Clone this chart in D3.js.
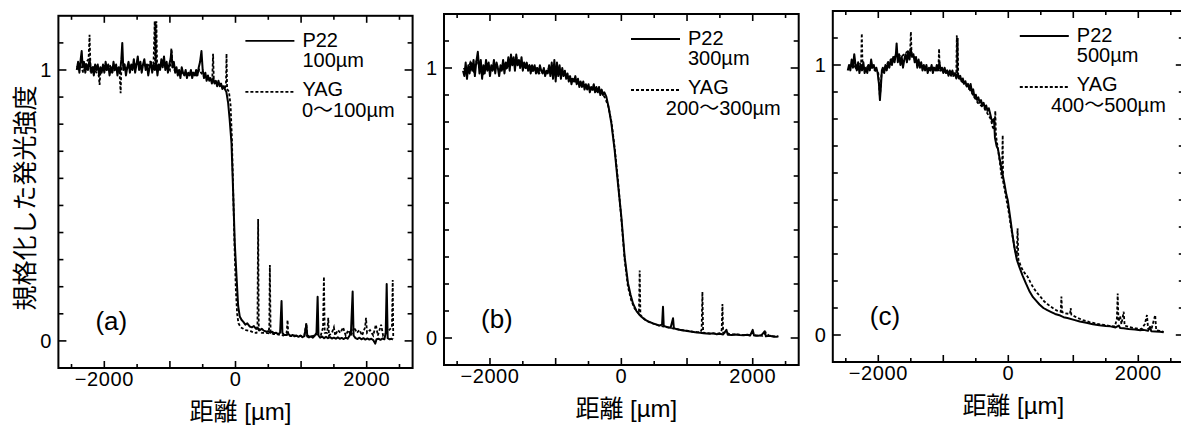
<!DOCTYPE html>
<html><head><meta charset="utf-8">
<script src="https://cdn.jsdelivr.net/npm/d3@7"></script>
<style>body{margin:0;background:#fff}svg{display:block}</style>
</head><body><svg id="chart" width="1181" height="428"></svg>
<script>
// ---------- tick / label arrays ----------
const xTickValues = [-2000, 0, 2000];
const xTickLabels = ["\u22122000", "0", "2000"];
const yTickValues = [0, 1];
const yTickLabels = ["0", "1"];
const panelLabels = ["(a)", "(b)", "(c)"];
const legendP22 = ["100\u00b5m", "300\u00b5m", "500\u00b5m"];
const legendYAG = ["0\u301c100\u00b5m", "200\u301c300\u00b5m", "400\u301c500\u00b5m"];
const yTitle = "規格化した発光強度";
const xTitle = "距離 [\u00b5m]";

// ---------- series: [distance µm, normalised intensity] ----------
const p22A = [[-2420,1.00],[-2400,1.03],[-2380,0.99],[-2360,1.04],[-2345,1.07],[-2330,1.01],[-2310,1.03],[-2290,0.99],[-2270,1.02],[-2250,1.00],[-2225,1.04],[-2200,0.99],[-2180,1.01],[-2160,0.98],[-2140,1.02],[-2120,1.00],[-2100,1.02],[-2080,0.98],[-2060,1.01],[-2040,0.99],[-2020,1.02],[-2000,0.99],[-1980,1.03],[-1960,1.00],[-1940,1.02],[-1920,0.98],[-1900,1.01],[-1880,0.99],[-1860,1.03],[-1840,1.00],[-1820,1.02],[-1800,0.98],[-1780,1.01],[-1760,0.99],[-1740,1.04],[-1726,1.10],[-1710,1.00],[-1690,1.02],[-1670,0.98],[-1650,1.01],[-1630,1.03],[-1610,0.99],[-1590,1.02],[-1570,1.00],[-1550,1.04],[-1530,0.99],[-1510,1.02],[-1490,1.05],[-1470,1.00],[-1450,1.03],[-1430,0.99],[-1410,1.02],[-1390,1.04],[-1370,1.00],[-1350,1.02],[-1330,0.98],[-1310,1.01],[-1290,1.03],[-1270,0.99],[-1250,1.02],[-1230,1.00],[-1210,1.03],[-1190,0.98],[-1170,1.02],[-1150,1.00],[-1130,1.04],[-1110,1.01],[-1090,1.05],[-1070,1.00],[-1050,1.03],[-1030,0.99],[-1010,1.02],[-990,1.04],[-977,1.07],[-960,1.01],[-940,1.03],[-920,0.99],[-900,1.01],[-880,0.98],[-860,1.00],[-840,0.97],[-820,1.01],[-800,0.99],[-780,0.98],[-760,1.00],[-740,0.97],[-720,0.99],[-700,0.98],[-680,1.00],[-660,0.97],[-640,0.99],[-620,0.98],[-600,1.00],[-580,0.98],[-560,1.01],[-540,1.03],[-519,1.07],[-500,1.00],[-480,0.97],[-460,0.99],[-440,0.96],[-420,0.98],[-400,0.96],[-380,0.97],[-360,0.95],[-340,0.97],[-320,0.95],[-300,0.96],[-280,0.94],[-260,0.96],[-240,0.94],[-220,0.95],[-200,0.93],[-180,0.94],[-163,0.93],[-140,0.92],[-113,0.88],[-90,0.82],[-61,0.73],[-36,0.55],[-11,0.36],[15,0.24],[40,0.13],[65,0.09],[91,0.078],[120,0.07],[150,0.06],[180,0.065],[218,0.053],[250,0.05],[280,0.055],[310,0.045],[340,0.048],[370,0.04],[400,0.045],[430,0.038],[473,0.034],[500,0.036],[530,0.03],[560,0.034],[590,0.028],[620,0.03],[650,0.025],[680,0.03],[702,0.147],[715,0.03],[740,0.022],[779,0.022],[810,0.025],[840,0.018],[870,0.022],[900,0.017],[930,0.02],[960,0.015],[990,0.02],[1020,0.014],[1050,0.018],[1080,0.06],[1095,0.016],[1120,0.013],[1150,0.017],[1180,0.012],[1210,0.02],[1235,0.03],[1252,0.163],[1265,0.02],[1290,0.012],[1320,0.016],[1350,0.01],[1380,0.015],[1410,0.01],[1440,0.014],[1470,0.009],[1500,0.012],[1530,0.008],[1560,0.013],[1590,0.008],[1620,0.011],[1650,0.007],[1680,0.012],[1710,0.008],[1740,0.02],[1760,0.03],[1786,0.182],[1800,0.02],[1830,0.01],[1860,0.007],[1890,0.012],[1920,0.006],[1950,0.01],[1980,0.005],[2010,0.009],[2040,0.005],[2070,0.008],[2100,0.003],[2130,-0.01],[2150,0.006],[2180,0.008],[2210,0.004],[2240,0.009],[2270,0.006],[2290,0.03],[2305,0.21],[2320,0.01],[2350,0.006],[2380,0.008],[2400,0.005]];

const yagA = [[-2420,1.01],[-2370,1.02],[-2320,0.99],[-2270,1.03],[-2240,1.04],[-2225,1.13],[-2210,1.00],[-2170,1.01],[-2120,0.99],[-2085,0.98],[-2072,0.945],[-2060,0.99],[-2020,1.01],[-1970,1.00],[-1920,1.02],[-1870,0.99],[-1820,1.01],[-1770,1.00],[-1751,0.914],[-1740,1.01],[-1700,1.02],[-1650,1.00],[-1600,1.02],[-1550,1.01],[-1500,1.03],[-1450,1.00],[-1400,1.02],[-1350,1.01],[-1300,1.03],[-1250,1.02],[-1232,1.18],[-1225,1.02],[-1218,1.18],[-1212,1.02],[-1206,1.18],[-1195,1.01],[-1150,1.02],[-1100,1.03],[-1060,1.02],[-1000,1.00],[-977,1.08],[-960,1.01],[-900,0.99],[-850,1.00],[-800,0.98],[-750,0.99],[-700,0.98],[-650,0.99],[-600,0.98],[-550,1.00],[-500,0.98],[-450,0.97],[-400,0.97],[-355,0.96],[-342,1.06],[-330,0.96],[-290,0.95],[-250,0.95],[-200,0.94],[-160,0.93],[-145,0.95],[-137,1.06],[-128,0.93],[-100,0.92],[-75,0.87],[-55,0.75],[-35,0.55],[-15,0.35],[5,0.19],[25,0.10],[45,0.065],[80,0.05],[120,0.045],[160,0.04],[200,0.038],[240,0.035],[280,0.03],[320,0.03],[335,0.06],[345,0.45],[355,0.04],[400,0.03],[450,0.03],[500,0.028],[515,0.05],[524,0.28],[535,0.03],[580,0.025],[630,0.025],[680,0.022],[730,0.02],[780,0.03],[794,0.077],[805,0.02],[850,0.018],[900,0.02],[950,0.017],[1000,0.018],[1050,0.02],[1080,0.066],[1090,0.02],[1150,0.016],[1200,0.02],[1250,0.025],[1300,0.02],[1335,0.05],[1348,0.237],[1360,0.03],[1400,0.03],[1414,0.085],[1425,0.02],[1470,0.03],[1500,0.05],[1520,0.02],[1560,0.04],[1600,0.03],[1640,0.05],[1680,0.02],[1720,0.04],[1760,0.02],[1810,0.05],[1850,0.03],[1890,0.04],[1930,0.02],[1975,0.05],[1990,0.085],[2005,0.03],[2050,0.04],[2100,0.02],[2140,0.06],[2170,0.02],[2220,0.06],[2250,0.02],[2300,0.03],[2385,0.05],[2397,0.225],[2405,0.01]];

const p22B = [[-2410,0.99],[-2390,0.97],[-2370,1.02],[-2350,0.96],[-2330,1.01],[-2310,0.98],[-2290,1.02],[-2270,0.99],[-2250,1.03],[-2230,0.97],[-2210,1.02],[-2185,1.06],[-2160,0.98],[-2140,1.03],[-2120,0.96],[-2100,1.01],[-2080,0.98],[-2060,1.03],[-2040,0.99],[-2020,1.02],[-2000,0.97],[-1980,1.01],[-1960,0.99],[-1940,1.03],[-1920,0.98],[-1900,1.02],[-1880,1.00],[-1860,0.97],[-1840,1.01],[-1820,0.99],[-1800,1.03],[-1780,0.98],[-1760,1.02],[-1740,1.00],[-1720,1.04],[-1700,0.99],[-1680,1.05],[-1660,1.01],[-1640,1.04],[-1620,0.99],[-1600,1.05],[-1580,1.01],[-1560,1.03],[-1540,1.00],[-1520,1.04],[-1500,0.99],[-1480,1.02],[-1460,1.00],[-1440,1.02],[-1420,0.99],[-1400,1.01],[-1380,0.98],[-1360,1.01],[-1340,0.99],[-1320,1.01],[-1300,0.98],[-1280,1.00],[-1260,0.98],[-1240,1.01],[-1220,0.99],[-1200,0.98],[-1180,1.00],[-1160,0.97],[-1140,0.99],[-1120,0.98],[-1100,1.01],[-1080,0.97],[-1060,1.02],[-1040,0.96],[-1020,1.03],[-1000,0.95],[-980,1.02],[-960,0.97],[-940,1.01],[-920,0.96],[-900,1.00],[-880,0.97],[-860,0.99],[-840,0.96],[-820,0.98],[-800,0.95],[-780,0.97],[-760,0.94],[-740,0.96],[-720,0.95],[-700,0.97],[-680,0.94],[-660,0.96],[-640,0.93],[-620,0.95],[-600,0.93],[-580,0.95],[-560,0.92],[-540,0.94],[-520,0.92],[-500,0.94],[-480,0.91],[-460,0.93],[-440,0.92],[-420,0.94],[-400,0.91],[-380,0.93],[-360,0.91],[-340,0.93],[-320,0.90],[-300,0.92],[-280,0.90],[-260,0.91],[-229,0.894],[-190,0.85],[-152,0.795],[-102,0.696],[-52,0.573],[0,0.449],[50,0.301],[101,0.203],[140,0.16],[177,0.128],[230,0.10],[279,0.085],[305,0.079],[360,0.068],[420,0.06],[482,0.054],[533,0.05],[580,0.046],[620,0.05],[634,0.116],[645,0.045],[700,0.04],[750,0.038],[787,0.073],[800,0.036],[850,0.032],[900,0.03],[950,0.028],[1000,0.026],[1050,0.024],[1100,0.022],[1150,0.02],[1200,0.019],[1250,0.018],[1295,0.017],[1350,0.016],[1400,0.018],[1450,0.014],[1500,0.016],[1550,0.013],[1600,0.03],[1620,0.012],[1680,0.011],[1740,0.013],[1803,0.011],[1860,0.01],[1920,0.012],[1960,0.009],[2000,0.03],[2020,0.009],[2080,0.008],[2130,0.01],[2184,0.025],[2200,0.006],[2260,0.008],[2320,0.005],[2362,0.005],[2390,0.006]];

const yagB = [[-2400,1.00],[-2350,0.98],[-2300,1.02],[-2250,0.99],[-2200,1.03],[-2150,1.00],[-2100,0.98],[-2050,1.02],[-2000,1.00],[-1950,0.99],[-1900,1.01],[-1850,0.99],[-1800,1.02],[-1750,1.00],[-1700,1.03],[-1650,1.02],[-1600,1.04],[-1550,1.01],[-1500,1.02],[-1450,1.00],[-1400,1.01],[-1350,0.99],[-1300,1.00],[-1250,0.98],[-1200,0.99],[-1150,0.98],[-1100,1.00],[-1050,0.98],[-1000,0.99],[-950,0.98],[-900,0.98],[-850,0.97],[-800,0.96],[-750,0.96],[-700,0.95],[-650,0.95],[-600,0.94],[-550,0.93],[-500,0.93],[-450,0.92],[-400,0.92],[-350,0.91],[-300,0.91],[-250,0.89],[-200,0.86],[-150,0.80],[-100,0.70],[-50,0.58],[0,0.44],[50,0.29],[100,0.19],[150,0.14],[200,0.11],[250,0.095],[268,0.09],[279,0.25],[290,0.085],[350,0.07],[400,0.062],[450,0.057],[500,0.052],[550,0.048],[600,0.045],[650,0.042],[700,0.04],[750,0.037],[800,0.035],[850,0.033],[900,0.03],[950,0.028],[1000,0.027],[1050,0.025],[1100,0.023],[1150,0.022],[1200,0.022],[1222,0.03],[1234,0.171],[1245,0.02],[1300,0.018],[1350,0.017],[1400,0.016],[1450,0.016],[1500,0.018],[1528,0.03],[1539,0.126],[1550,0.02],[1600,0.02],[1650,0.014],[1700,0.013],[1750,0.014],[1800,0.012],[1850,0.011],[1900,0.012],[1950,0.01],[2000,0.02],[2050,0.009],[2100,0.01],[2150,0.008],[2200,0.02],[2250,0.008],[2300,0.007],[2350,0.006],[2390,0.006]];

const p22C = [[-2470,0.98],[-2450,1.00],[-2430,0.98],[-2410,1.02],[-2390,0.99],[-2370,1.04],[-2350,1.00],[-2330,0.98],[-2310,1.01],[-2290,0.97],[-2270,1.00],[-2250,0.98],[-2230,1.01],[-2210,0.97],[-2190,0.99],[-2170,0.97],[-2150,1.00],[-2130,0.98],[-2110,1.02],[-2090,0.99],[-2070,1.00],[-2050,0.98],[-2030,0.99],[-2010,0.97],[-1990,0.93],[-1975,0.87],[-1960,0.92],[-1945,0.98],[-1930,0.99],[-1910,0.97],[-1890,1.00],[-1870,0.98],[-1850,1.01],[-1830,0.99],[-1810,1.02],[-1790,1.00],[-1770,1.03],[-1750,1.01],[-1730,1.04],[-1718,1.08],[-1700,1.01],[-1680,1.04],[-1660,1.00],[-1640,1.03],[-1620,0.99],[-1600,1.02],[-1580,1.04],[-1560,1.01],[-1540,1.05],[-1520,1.02],[-1500,1.06],[-1480,1.03],[-1460,1.04],[-1440,1.01],[-1420,1.03],[-1400,0.99],[-1380,1.02],[-1360,0.99],[-1340,1.01],[-1320,0.98],[-1300,1.00],[-1280,0.98],[-1260,1.00],[-1240,0.97],[-1220,0.99],[-1200,0.98],[-1180,1.00],[-1160,0.97],[-1140,0.99],[-1120,0.98],[-1100,1.00],[-1080,0.98],[-1060,1.01],[-1040,0.98],[-1020,0.99],[-1000,0.97],[-980,0.99],[-960,0.97],[-940,0.98],[-920,0.96],[-900,0.98],[-880,0.96],[-860,0.98],[-840,0.96],[-820,0.97],[-800,0.95],[-780,0.97],[-760,0.95],[-740,0.96],[-720,0.94],[-700,0.95],[-680,0.93],[-660,0.94],[-640,0.92],[-620,0.93],[-600,0.91],[-580,0.93],[-560,0.90],[-540,0.91],[-520,0.88],[-500,0.89],[-480,0.87],[-460,0.88],[-440,0.86],[-420,0.87],[-400,0.85],[-380,0.86],[-360,0.84],[-340,0.85],[-320,0.83],[-300,0.84],[-280,0.82],[-260,0.80],[-240,0.79],[-220,0.80],[-205,0.73],[-180,0.70],[-160,0.69],[-138,0.66],[-100,0.61],[-61,0.562],[-30,0.52],[-9,0.50],[20,0.45],[41,0.414],[65,0.37],[92,0.327],[130,0.28],[168,0.253],[220,0.22],[271,0.191],[330,0.16],[380,0.14],[424,0.128],[480,0.113],[540,0.10],[600,0.092],[653,0.086],[720,0.078],[800,0.072],[850,0.066],[909,0.063],[1010,0.056],[1100,0.05],[1200,0.045],[1300,0.04],[1400,0.036],[1500,0.033],[1571,0.032],[1650,0.028],[1700,0.035],[1720,0.026],[1775,0.025],[1850,0.022],[1950,0.02],[2030,0.018],[2081,0.019],[2150,0.016],[2180,0.03],[2200,0.014],[2260,0.013],[2336,0.012],[2390,0.01]];

const yagC = [[-2450,0.99],[-2400,1.01],[-2350,0.99],[-2300,1.01],[-2265,1.00],[-2254,1.117],[-2243,1.00],[-2200,0.98],[-2150,1.00],[-2100,0.99],[-2050,0.98],[-2000,0.97],[-1975,0.88],[-1950,0.97],[-1900,0.99],[-1850,1.01],[-1800,1.02],[-1750,1.03],[-1700,1.04],[-1650,1.03],[-1600,1.04],[-1550,1.05],[-1510,1.05],[-1499,1.123],[-1488,1.04],[-1450,1.03],[-1400,1.01],[-1350,1.00],[-1300,0.99],[-1250,0.99],[-1200,0.98],[-1150,0.99],[-1100,0.98],[-1075,0.99],[-1065,1.06],[-1055,0.98],[-1000,0.98],[-950,0.97],[-900,0.97],[-850,0.96],[-800,0.97],[-792,1.11],[-785,0.97],[-778,1.10],[-770,0.96],[-720,0.94],[-670,0.93],[-620,0.92],[-570,0.90],[-520,0.88],[-470,0.86],[-420,0.85],[-370,0.84],[-320,0.82],[-270,0.80],[-240,0.77],[-214,0.76],[-200,0.83],[-190,0.74],[-160,0.69],[-130,0.64],[-100,0.58],[-86,0.74],[-80,0.57],[-50,0.53],[-20,0.49],[10,0.45],[40,0.40],[70,0.36],[100,0.32],[130,0.29],[143,0.395],[155,0.28],[200,0.25],[250,0.23],[297,0.216],[350,0.19],[400,0.17],[450,0.154],[500,0.14],[550,0.125],[600,0.115],[653,0.105],[700,0.097],[750,0.09],[806,0.086],[817,0.142],[828,0.085],[880,0.08],[950,0.078],[960,0.10],[970,0.075],[1050,0.065],[1150,0.055],[1250,0.048],[1350,0.042],[1450,0.038],[1550,0.034],[1640,0.032],[1670,0.06],[1683,0.154],[1695,0.05],[1720,0.07],[1740,0.04],[1775,0.086],[1790,0.035],[1850,0.03],[1950,0.025],[2050,0.022],[2100,0.04],[2133,0.074],[2150,0.025],[2200,0.02],[2260,0.074],[2275,0.018],[2330,0.015],[2390,0.012]];

// ---------- layout ----------
const xDomain = [-2700, 2700];
const yDomain = [-0.1, 1.2];
const layout = [
  {xr: [58.4, 412.6], yr: [368, 15.8]},
  {xr: [444, 798.7], yr: [365, 14]},
  {xr: [832.8, 1183.8], yr: [362, 11]}
];
const p22Series = [p22A, p22B, p22C];
const yagSeries = [yagA, yagB, yagC];

const FONT = "'Liberation Sans', Arial, 'Noto Sans CJK JP', sans-serif";
const svg = d3.select("#chart");

layout.forEach((L, i) => {
  const x = d3.scaleLinear().domain(xDomain).range(L.xr);
  const y = d3.scaleLinear().domain(yDomain).range(L.yr);
  const g = svg.append("g");
  const left = x(xDomain[0]), right = x(xDomain[1]), top = y(yDomain[1]), bottom = y(yDomain[0]);

  // ticks (inward) on all four sides
  const xt = d3.range(-2500, 2501, 500);
  xt.forEach(v => {
    const len = (v % 1000 === 0) ? 7 : 4;
    g.append("line").attr("x1", x(v)).attr("x2", x(v)).attr("y1", bottom).attr("y2", bottom - len)
      .attr("stroke", "#000").attr("stroke-width", 1.6);
    g.append("line").attr("x1", x(v)).attr("x2", x(v)).attr("y1", top).attr("y2", top + len)
      .attr("stroke", "#000").attr("stroke-width", 1.6);
  });
  const yt = d3.range(-1, 12).map(k => k / 10);
  yt.forEach(v => {
    const len = (Math.abs(v) < 1e-9 || Math.abs(v - 1) < 1e-9) ? 8 : 5;
    g.append("line").attr("x1", left).attr("x2", left + len).attr("y1", y(v)).attr("y2", y(v))
      .attr("stroke", "#000").attr("stroke-width", 1.6);
    g.append("line").attr("x1", right).attr("x2", right - len).attr("y1", y(v)).attr("y2", y(v))
      .attr("stroke", "#000").attr("stroke-width", 1.6);
  });

  // frame
  g.append("rect").attr("x", left).attr("y", top).attr("width", right - left).attr("height", bottom - top)
    .attr("fill", "none").attr("stroke", "#000").attr("stroke-width", 2);

  // tick labels
  xTickValues.forEach((v, k) => {
    g.append("text").attr("x", x(v)).attr("y", bottom + 18).attr("text-anchor", "middle")
      .attr("font-family", FONT).attr("font-size", 20).attr("letter-spacing", 0.6).text(xTickLabels[k]);
  });
  yTickValues.forEach((v, k) => {
    g.append("text").attr("x", left - 7).attr("y", y(v) + 7).attr("text-anchor", "end")
      .attr("font-family", FONT).attr("font-size", 20).text(yTickLabels[k]);
  });

  // x title
  g.append("text").attr("x", x(0) + 5).attr("y", bottom + 52).attr("text-anchor", "middle")
    .attr("font-family", FONT).attr("font-size", 24).text(xTitle);

  // curves
  const line = d3.line().x(d => x(d[0])).y(d => y(d[1]));
  g.append("path").datum(yagSeries[i]).attr("d", line).attr("fill", "none")
    .attr("stroke", "#000").attr("stroke-width", 1.8).attr("stroke-dasharray", "3,2");
  g.append("path").datum(p22Series[i]).attr("d", line).attr("fill", "none")
    .attr("stroke", "#000").attr("stroke-width", 2).attr("stroke-linejoin", "round");

  // legend
  g.append("line").attr("x1", left + 187).attr("x2", left + 236).attr("y1", top + 25).attr("y2", top + 25)
    .attr("stroke", "#000").attr("stroke-width", 1.8);
  g.append("text").attr("x", left + 244).attr("y", top + 31).attr("font-family", FONT).attr("font-size", 20).text("P22");
  g.append("text").attr("x", left + 244).attr("y", top + 51).attr("font-family", FONT).attr("font-size", 20).text(legendP22[i]);
  g.append("line").attr("x1", left + 187).attr("x2", left + 236).attr("y1", top + 76).attr("y2", top + 76)
    .attr("stroke", "#000").attr("stroke-width", 1.8).attr("stroke-dasharray", "3,2");
  g.append("text").attr("x", left + 244).attr("y", top + 80).attr("font-family", FONT).attr("font-size", 20).text("YAG");
  g.append("text").attr("x", right - 18).attr("y", top + 101).attr("text-anchor", "end")
    .attr("font-family", FONT).attr("font-size", 20).text(legendYAG[i]);

  // panel label
  g.append("text").attr("x", left + 37).attr("y", top + 314).attr("font-family", FONT).attr("font-size", 26)
    .text(panelLabels[i]);
});

// y title
svg.append("text").attr("transform", "translate(23,198) rotate(-90)").attr("text-anchor", "middle")
  .attr("dominant-baseline", "central").attr("font-family", "'Noto Sans CJK JP', sans-serif")
  .attr("font-size", 25).text(yTitle);
</script>
</body></html>
